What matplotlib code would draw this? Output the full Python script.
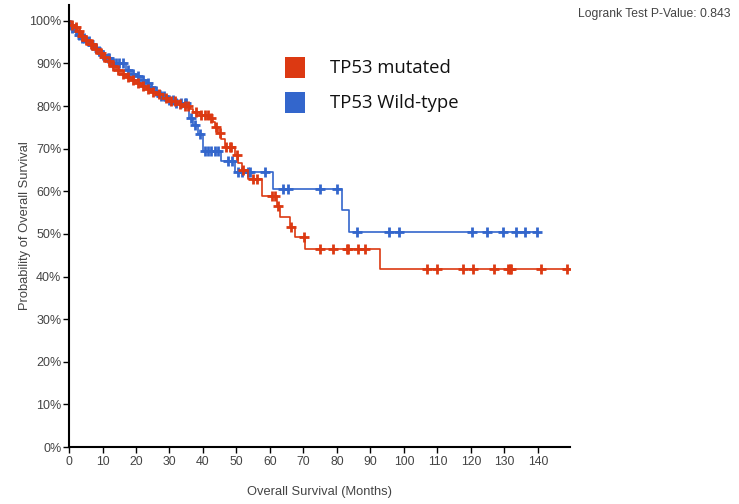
import numpy as np
import matplotlib
matplotlib.use("Agg")
import matplotlib.pyplot as plt

plt.rcParams['font.family'] = ['Liberation Sans', 'DejaVu Sans']

# --- data (months, survival fraction after the step) ---
mut_times = [0, 0.5, 1, 1.5, 2.5, 3.5, 4.5, 6, 7.5, 9, 10, 11, 12.5, 14, 15.5,
             17, 18.5, 20, 21.5, 23, 24.5, 26, 28, 30, 32, 34, 36, 37, 39,
             42, 43, 43.5, 44.5, 45.5, 46.5, 49.6, 50.6, 51.6, 53.5, 57.5,
             62, 63, 66, 67.5, 70.5, 93]
mut_surv = [1.0, 0.995, 0.99, 0.985, 0.975, 0.965, 0.955, 0.945, 0.935, 0.925,
            0.915, 0.905, 0.895, 0.885, 0.875, 0.868, 0.86, 0.855, 0.848, 0.84,
            0.833, 0.828, 0.82, 0.812, 0.806, 0.799, 0.792, 0.786, 0.779,
            0.772, 0.762, 0.75, 0.737, 0.722, 0.705, 0.685, 0.666, 0.65, 0.63,
            0.589, 0.566, 0.54, 0.517, 0.492, 0.465, 0.417]
mut_end = 149.5
mut_censor = [1, 2, 3, 4, 5, 6.5, 7, 8, 9.5, 10.5, 12, 13, 14.5, 16, 17.5, 19,
              20.5, 22, 23.5, 25, 27, 29, 30.5, 31.5, 33, 34.5, 35.5, 38, 39.5,
              40.5, 41.5, 42.5, 44, 45, 47, 48, 48.5, 50.2, 52, 55, 56,
              60.6, 61.5, 62.4, 66.3, 70.2, 75, 78.7, 82.9, 83.4, 86.4, 88.4,
              107, 109.8, 117.5, 120.5, 126.9, 131.1, 131.6, 132.1, 140.8, 148.6]

wt_times = [0, 0.3, 0.8, 1.5, 2.5, 3.5, 5, 6.5, 7.5, 8.5, 9.5, 11, 12.5, 17,
            18.5, 20, 21.5, 23, 24, 25.5, 27, 29, 32, 35.7, 37, 38.5, 40,
            45.5, 49.5, 61, 81.5, 83.5]
wt_surv = [1.0, 0.99, 0.983, 0.975, 0.967, 0.96, 0.952, 0.944, 0.936, 0.928,
           0.92, 0.912, 0.902, 0.885, 0.876, 0.87, 0.862, 0.855, 0.845, 0.835,
           0.823, 0.815, 0.808, 0.772, 0.756, 0.735, 0.695, 0.67, 0.645,
           0.605, 0.556, 0.504]
wt_end = 139.6
wt_censor = [0.5, 1, 2, 3, 4, 4.5, 6, 7, 8, 9, 10, 11.5, 12, 13, 14, 15, 16,
             17.5, 19, 20.5, 22, 23.5, 24.5, 26, 27.5, 28.5, 30, 31, 32, 33.5,
             34.5, 35, 36.3, 37.5, 39, 40.5, 41.5, 42.5, 43.5, 44.5, 47.5,
             48.6, 50.5, 51.5, 53.4, 54, 58.5, 64, 65.5, 75, 80, 85.9, 95.6,
             98.6, 120.2, 124.7, 129.6, 133.6, 136.1, 139.6]

labels = ["TP53 mutated", "TP53 Wild-type"]
red = "#dc3912"
blue = "#3366cc"
p_text = "Logrank Test P-Value: 0.843"


def surv_at(times, surv, t):
    idx = np.searchsorted(times, t, side='right') - 1
    return np.array(surv)[idx]


fig = plt.figure(figsize=(7.39, 5.04), dpi=100)
ax = fig.add_axes([0.0934, 0.113, 0.678, 0.877])

for times, surv, end, cens, col in [
        (wt_times, wt_surv, wt_end, wt_censor, blue),
        (mut_times, mut_surv, mut_end, mut_censor, red)]:
    tx = list(times) + [end]
    sy = list(surv) + [surv[-1]]
    ax.step(tx, sy, where='post', color=col, lw=1.2)
    cy = surv_at(times, surv, np.array(cens))
    ax.plot(cens, cy, linestyle='none', marker='+', color=col,
            markersize=7, mew=2)

ax.set_xlim(0, 149.6)
ax.set_ylim(0, 1.037)
ax.set_xticks(np.arange(0, 141, 10))
ax.set_yticks(np.arange(0, 1.01, 0.1))
ax.set_yticklabels([f"{int(round(v * 100))}%" for v in np.arange(0, 1.01, 0.1)])
for s in ['top', 'right']:
    ax.spines[s].set_visible(False)
for s in ['left', 'bottom']:
    ax.spines[s].set_linewidth(1.5)
ax.tick_params(direction='out', length=4, width=1, labelsize=9,
               labelcolor='#444444', pad=1.5)
ax.tick_params(axis='x', pad=2.5, labelsize=8.8)
ax.set_xlabel("Overall Survival (Months)", fontsize=9.3, color='#444444',
              labelpad=13)
ax.set_ylabel("Probability of Overall Survival", fontsize=9.3,
              color='#444444', labelpad=-1.5)

fig.text(0.989, 0.972, p_text, ha='right', va='center', fontsize=8.7,
         color='#444444')

# legend drawn as squares + text
for i, (lab, col) in enumerate(zip(labels, [red, blue])):
    yc = 1 - (68 + 35 * i) / 504
    fig.patches.append(plt.Rectangle((285 / 739, yc - 10 / 504), 20 / 739,
                                     21 / 504, transform=fig.transFigure,
                                     facecolor=col, edgecolor='none'))
    fig.text(330 / 739, yc, lab, ha='left', va='center', fontsize=13.3,
             family=['Open Sans', 'DejaVu Sans'], color='#111111')

fig.savefig("out.png", dpi=100)
